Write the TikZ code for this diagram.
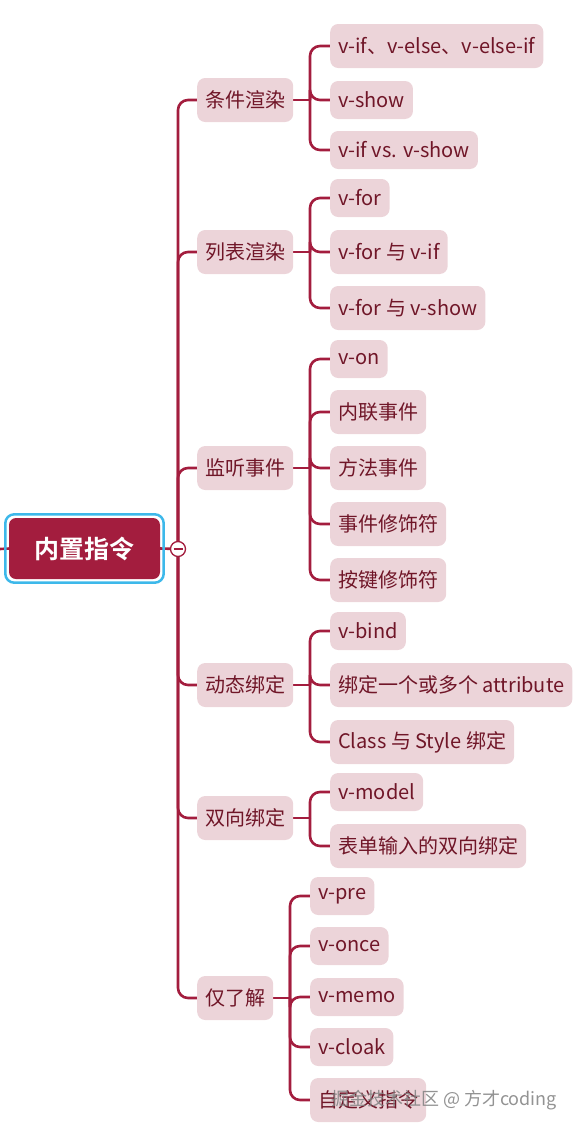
\documentclass[tikz,border=0pt]{standalone}
\usepackage{fontspec}
\setmainfont{Noto Sans CJK SC}[BoldFont=* Bold]
\usetikzlibrary{positioning,backgrounds}
\definecolor{wine}{HTML}{A31D3E}
\definecolor{winetext}{HTML}{701628}
\definecolor{blush}{HTML}{ECD4D9}
\definecolor{ring}{HTML}{3DB8EA}
\tikzset{
  topic/.style={fill=blush, text=winetext, rounded corners=8pt, inner xsep=8pt,
    minimum height=44pt, anchor=west, font=\fontsize{20}{23}\selectfont},
  leaf/.style={topic, minimum height=38pt},
  tall/.style={minimum height=44pt},
  rootbox/.style={fill=wine, text=white, rounded corners=7pt, minimum width=151pt,
    minimum height=61pt, font=\fontsize{25}{28}\selectfont\bfseries},
  rootring/.style={draw=ring, line width=2.5pt, rounded corners=9pt},
  branch/.style={draw=wine, line width=2.6pt, rounded corners=10pt},
  hubdot/.style={circle, draw=wine, fill=white, line width=1.3pt, minimum size=15pt, inner sep=0pt},
  watermark/.style={text=gray, opacity=0.85, font=\fontsize{18}{20}\selectfont},
}
\begin{document}
\begin{tikzpicture}[x=1pt,y=-1pt]
\useasboundingbox (0,0) rectangle (573,1128);

\node[rootbox] (root) at (84.5,548.5) {内置指令};
\draw[rootring] ([xshift=-3.5pt,yshift=3.5pt]root.north west) rectangle ([xshift=3.5pt,yshift=-3.5pt]root.south east);
\coordinate (inlet) at (0,549);
\coordinate (hub) at (178,549);

\node[topic] (cond) at (197,100) {条件渲染};
\node[topic] (list) at (197,252) {列表渲染};
\node[topic] (event) at (197,468) {监听事件};
\node[topic] (bind) at (197,685) {动态绑定};
\node[topic] (model) at (197,818) {双向绑定};
\node[topic] (misc) at (197,998) {仅了解};

\node[leaf,tall] (c1) at (330,46) {v-if、v-else、v-else-if};
\node[leaf] (c2) at (330,100) {v-show};
\node[leaf] (c3) at (330,150) {v-if vs. v-show};

\node[leaf] (l1) at (330,198) {v-for};
\node[leaf,tall] (l2) at (330,252) {v-for 与 v-if};
\node[leaf,tall] (l3) at (330,308) {v-for 与 v-show};

\node[leaf] (e1) at (330,359) {v-on};
\node[leaf,tall] (e2) at (330,412) {内联事件};
\node[leaf,tall] (e3) at (330,468) {方法事件};
\node[leaf,tall] (e4) at (330,524) {事件修饰符};
\node[leaf,tall] (e5) at (330,580) {按键修饰符};

\node[leaf] (b1) at (330,631) {v-bind};
\node[leaf,tall] (b2) at (330,685) {绑定一个或多个 attribute};
\node[leaf,tall] (b3) at (330,742) {Class 与 Style 绑定};

\node[leaf] (m1) at (330,792) {v-model};
\node[leaf,tall] (m2) at (330,846) {表单输入的双向绑定};

\node[leaf] (o1) at (310,896) {v-pre};
\node[leaf] (o2) at (310,946) {v-once};
\node[leaf] (o3) at (310,997) {v-memo};
\node[leaf] (o4) at (310,1047) {v-cloak};
\node[leaf,tall] (o5) at (310,1100) {自定义指令};

\coordinate (condJ) at (310,100);
\coordinate (listJ) at (310,252);
\coordinate (eventJ) at (310,468);
\coordinate (bindJ) at (310,685);
\coordinate (modelJ) at (310,818);
\coordinate (miscJ) at (290,998);

\begin{scope}[on background layer]
\draw[branch] (inlet) -- (root.west);
\draw[branch] (root.east) -- (hub);
\draw[branch] (hub) |- (cond.west);
\draw[branch] (hub) |- (list.west);
\draw[branch] (hub) |- (event.west);
\draw[branch] (hub) |- (bind.west);
\draw[branch] (hub) |- (model.west);
\draw[branch] (hub) |- (misc.west);

\draw[branch] (cond.east) -- (condJ);
\draw[branch] (condJ) |- (c1.west);
\draw[branch] (condJ) |- (c2.west);
\draw[branch] (condJ) |- (c3.west);

\draw[branch] (list.east) -- (listJ);
\draw[branch] (listJ) |- (l1.west);
\draw[branch] (listJ) |- (l2.west);
\draw[branch] (listJ) |- (l3.west);

\draw[branch] (event.east) -- (eventJ);
\draw[branch] (eventJ) |- (e1.west);
\draw[branch] (eventJ) |- (e2.west);
\draw[branch] (eventJ) |- (e3.west);
\draw[branch] (eventJ) |- (e4.west);
\draw[branch] (eventJ) |- (e5.west);

\draw[branch] (bind.east) -- (bindJ);
\draw[branch] (bindJ) |- (b1.west);
\draw[branch] (bindJ) |- (b2.west);
\draw[branch] (bindJ) |- (b3.west);

\draw[branch] (model.east) -- (modelJ);
\draw[branch] (modelJ) |- (m1.west);
\draw[branch] (modelJ) |- (m2.west);

\draw[branch] (misc.east) -- (miscJ);
\draw[branch] (miscJ) |- (o1.west);
\draw[branch] (miscJ) |- (o2.west);
\draw[branch] (miscJ) |- (o3.west);
\draw[branch] (miscJ) |- (o4.west);
\draw[branch] (miscJ) |- (o5.west);
\end{scope}

\node[hubdot] (fold) at (hub) {};
\draw[wine, line width=1.4pt] ([xshift=-4.5pt]fold.center) -- ([xshift=4.5pt]fold.center);

\node[watermark] (credit) at (444,1100) {掘金技术社区 @ 方才coding};
\end{tikzpicture}
\end{document}
